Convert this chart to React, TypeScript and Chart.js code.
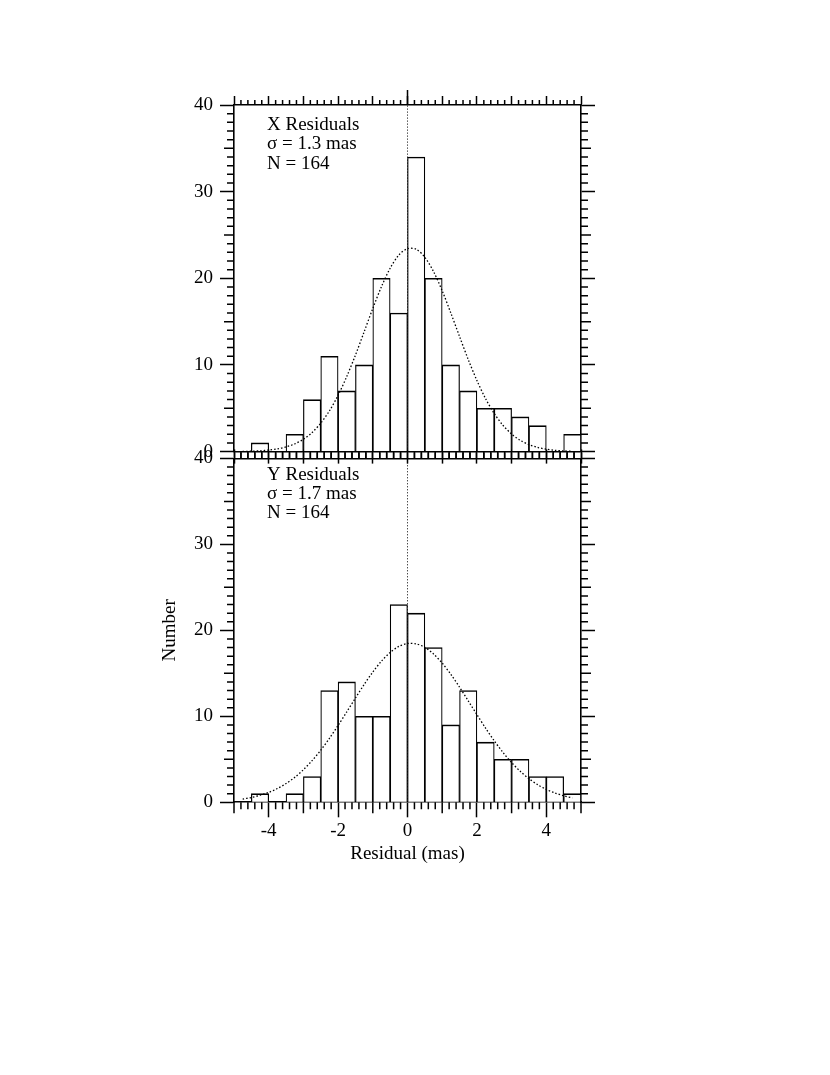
import React, { useEffect, useRef } from "react";
import { Chart, registerables } from "chart.js";

Chart.register(...registerables);

// ---------- data ----------
const binCenters = [
  -4.75, -4.25, -3.75, -3.25, -2.75, -2.25, -1.75, -1.25, -0.75, -0.25,
  0.25, 0.75, 1.25, 1.75, 2.25, 2.75, 3.25, 3.75, 4.25, 4.75,
];
const xResidualCounts = [0, 1, 0, 2, 6, 11, 7, 10, 20, 16, 34, 20, 10, 7, 5, 5, 4, 3, 0, 2];
const yResidualCounts = [0, 1, 0, 1, 3, 13, 14, 10, 10, 23, 22, 18, 9, 13, 7, 5, 5, 3, 3, 1];

const curveX = [
  -4.75, -4.5, -4.25, -4.0, -3.75, -3.5, -3.25, -3.0, -2.75, -2.5, -2.25, -2.0, -1.75,
  -1.5, -1.25, -1.0, -0.75, -0.5, -0.25, 0.0, 0.25, 0.5, 0.75, 1.0, 1.25, 1.5, 1.75,
  2.0, 2.25, 2.5, 2.75, 3.0, 3.25, 3.5, 3.75, 4.0, 4.25, 4.5, 4.75,
];
const xFitCurve = [
  0.02, 0.05, 0.09, 0.18, 0.31, 0.54, 0.89, 1.43, 2.2, 3.28, 4.7, 6.5, 8.67,
  11.14, 13.82, 16.52, 19.04, 21.16, 22.68, 23.43, 23.35, 22.43, 20.78, 18.56, 15.98, 13.28, 10.63,
  8.21, 6.11, 4.39, 3.04, 2.03, 1.3, 0.81, 0.48, 0.28, 0.15, 0.08, 0.04,
];
const yFitCurve = [
  0.38, 0.56, 0.82, 1.15, 1.6, 2.18, 2.9, 3.79, 4.84, 6.06, 7.44, 8.94, 10.52,
  12.13, 13.7, 15.15, 16.42, 17.43, 18.13, 18.47, 18.43, 18.02, 17.25, 16.19, 14.88, 13.39, 11.8,
  10.2, 8.63, 7.15, 5.81, 4.62, 3.6, 2.75, 2.05, 1.5, 1.08, 0.76, 0.52,
];

const xIntegerTicks = [-5, -4, -3, -2, -1, 0, 1, 2, 3, 4, 5];
const xLabelTicks = [-4, -2, 0, 2, 4];
const yTicks = [0, 10, 20, 30, 40];

const xPanelText = ["X Residuals", "\u03c3 = 1.3 mas", "N = 164"];
const yPanelText = ["Y Residuals", "\u03c3 = 1.7 mas", "N = 164"];

const xAxisTitle = "Residual (mas)";
const yAxisTitle = "Number";

// ---------- styling ----------
const FONT = "'Liberation Serif', 'Times New Roman', serif";
const FONT_SIZE = 19;
const BLACK = "#000";

type PanelKind = "top" | "bottom";

function makeTickPlugin(kind: PanelKind) {
  const o =
    kind === "top"
      ? { topMinor: 5, topZero: 15, bottomMinor: 7, bottomOdd: 0, yMinor: 7, yFive: 10, lines: xPanelText, dx: 33, dy: 24.5, lh: 19.5 }
      : { topMinor: 6, topZero: 0, bottomMinor: 7, bottomOdd: 11, yMinor: 7, yFive: 10, lines: yPanelText, dx: 33, dy: 22, lh: 19 };
  return {
    id: "axisTicks_" + kind,
    afterDraw(chart: any) {
      const { ctx, chartArea: a, scales } = chart;
      const xs = scales.x;
      const ys = scales.y;
      ctx.save();
      ctx.strokeStyle = BLACK;
      ctx.lineWidth = 1.5;
      ctx.beginPath();
      for (let i = -25; i <= 25; i++) {
        const v = i / 5;
        const px = xs.getPixelForValue(v);
        const isInt = i % 5 === 0;
        if (!isInt) {
          ctx.moveTo(px, a.top);
          ctx.lineTo(px, a.top - o.topMinor);
          ctx.moveTo(px, a.bottom);
          ctx.lineTo(px, a.bottom + o.bottomMinor);
        } else if (o.bottomOdd && Math.abs(v) % 2 === 1) {
          ctx.moveTo(px, a.bottom);
          ctx.lineTo(px, a.bottom + o.bottomOdd);
        }
      }
      if (o.topZero) {
        const px = xs.getPixelForValue(0);
        ctx.moveTo(px, a.top);
        ctx.lineTo(px, a.top - o.topZero);
      }
      for (let j = 1; j < 40; j++) {
        if (j % 10 === 0) continue;
        const len = j % 5 === 0 ? o.yFive : o.yMinor;
        const py = ys.getPixelForValue(j);
        ctx.moveTo(a.left, py);
        ctx.lineTo(a.left - len, py);
        ctx.moveTo(a.right, py);
        ctx.lineTo(a.right + len, py);
      }
      ctx.stroke();

      ctx.fillStyle = BLACK;
      ctx.font = `${FONT_SIZE}px ${FONT}`;
      ctx.textAlign = "left";
      ctx.textBaseline = "alphabetic";
      o.lines.forEach((t, k) => {
        ctx.fillText(t, a.left + o.dx, a.top + o.dy + k * o.lh);
      });
      ctx.restore();
    },
  };
}

function makeConfig(kind: PanelKind): any {
  const isTop = kind === "top";
  const counts = isTop ? xResidualCounts : yResidualCounts;
  const fit = isTop ? xFitCurve : yFitCurve;
  const font = { family: FONT, size: FONT_SIZE };

  const leftPad = 154.6;
  const yWidth = 79.4;
  const y2Width = 20;
  const rightPad = 229;

  return {
    type: "bar",
    data: {
      datasets: [
        {
          type: "line",
          data: curveX.map((x, i) => ({ x, y: fit[i] })),
          xAxisID: "x",
          yAxisID: "y",
          borderColor: BLACK,
          borderWidth: 1.3,
          borderDash: [1.5, 2],
          pointRadius: 0,
          fill: false,
          tension: 0.3,
          order: 0,
        },
        {
          type: "bar",
          data: binCenters.map((x, i) => ({ x, y: counts[i] })),
          xAxisID: "x",
          yAxisID: "y",
          backgroundColor: "#fff",
          borderColor: BLACK,
          borderWidth: { top: 1.6, left: 1.2, right: 1.2, bottom: 0 },
          barPercentage: 1,
          categoryPercentage: 1,
          order: 1,
        },
        {
          type: "line",
          data: [
            { x: 0, y: 0 },
            { x: 0, y: 40 },
          ],
          xAxisID: "x",
          yAxisID: "y",
          borderColor: BLACK,
          borderWidth: 1,
          borderDash: [1, 2],
          pointRadius: 0,
          fill: false,
          order: 2,
        },
      ],
    },
    options: {
      animation: false,
      responsive: false,
      maintainAspectRatio: false,
      events: [],
      layout: {
        padding: isTop
          ? { left: leftPad, right: rightPad, top: 89, bottom: 2.3 }
          : { left: leftPad, right: rightPad, top: 2, bottom: 5.1 },
      },
      plugins: {
        legend: { display: false },
        tooltip: { enabled: false },
        title: { display: false },
      },
      scales: {
        x: {
          type: "linear",
          position: "bottom",
          min: -5,
          max: 5,
          offset: false,
          afterBuildTicks: (s: any) => {
            s.ticks = (isTop ? xIntegerTicks : xLabelTicks).map((v) => ({ value: v }));
          },
          afterFit: (s: any) => {
            s.height = isTop ? 16 : 67.6;
          },
          grid: {
            display: true,
            drawOnChartArea: false,
            drawTicks: true,
            tickLength: isTop ? 12 : 15,
            tickWidth: 1.5,
            tickColor: BLACK,
            color: BLACK,
            offset: false,
          },
          border: { display: true, color: BLACK, width: 1.6 },
          ticks: {
            display: !isTop,
            autoSkip: false,
            maxRotation: 0,
            padding: 2,
            color: BLACK,
            font,
            callback: (v: any) => String(v),
          },
          title: {
            display: !isTop,
            text: xAxisTitle,
            color: BLACK,
            font,
            padding: { top: 4, bottom: 4 },
          },
        },
        x2: {
          type: "linear",
          position: "top",
          min: -5,
          max: 5,
          offset: false,
          display: true,
          afterBuildTicks: (s: any) => {
            s.ticks = xIntegerTicks.map((v) => ({ value: v }));
          },
          afterFit: (s: any) => {
            s.height = isTop ? 16 : 12;
          },
          grid: {
            display: true,
            drawOnChartArea: false,
            drawTicks: true,
            tickLength: 9,
            tickWidth: 1.5,
            tickColor: BLACK,
            color: BLACK,
            offset: false,
          },
          border: { display: true, color: BLACK, width: 1.6 },
          ticks: { display: false },
        },
        y: {
          type: "linear",
          position: "left",
          min: 0,
          max: 40,
          afterBuildTicks: (s: any) => {
            s.ticks = yTicks.map((v) => ({ value: v }));
          },
          afterFit: (s: any) => {
            s.width = yWidth;
          },
          grid: {
            display: true,
            drawOnChartArea: false,
            drawTicks: true,
            tickLength: 14,
            tickWidth: 1.5,
            tickColor: BLACK,
            color: BLACK,
          },
          border: { display: true, color: BLACK, width: 1.6 },
          ticks: {
            autoSkip: false,
            padding: 7,
            color: BLACK,
            font,
            callback: (v: any) => String(v),
          },
          title: {
            display: !isTop,
            text: yAxisTitle,
            color: BLACK,
            font,
            padding: { top: 4, bottom: 4 },
          },
        },
        y2: {
          type: "linear",
          position: "right",
          min: 0,
          max: 40,
          display: true,
          afterBuildTicks: (s: any) => {
            s.ticks = yTicks.map((v) => ({ value: v }));
          },
          afterFit: (s: any) => {
            s.width = y2Width;
          },
          grid: {
            display: true,
            drawOnChartArea: false,
            drawTicks: true,
            tickLength: 14,
            tickWidth: 1.5,
            tickColor: BLACK,
            color: BLACK,
          },
          border: { display: true, color: BLACK, width: 1.6 },
          ticks: { display: false },
        },
      },
    },
    plugins: [makeTickPlugin(kind)],
  };
}

export default function App() {
  const topRef = useRef<HTMLCanvasElement>(null);
  const botRef = useRef<HTMLCanvasElement>(null);

  useEffect(() => {
    const c1 = new Chart(topRef.current as HTMLCanvasElement, makeConfig("top"));
    const c2 = new Chart(botRef.current as HTMLCanvasElement, makeConfig("bottom"));
    return () => {
      c1.destroy();
      c2.destroy();
    };
  }, []);

  return (
    <div
      style={{
        position: "absolute",
        left: 0,
        top: 0,
        width: 830,
        height: 1075,
        background: "#fff",
      }}
    >
      <canvas
        ref={botRef}
        width={830}
        height={435}
        style={{ position: "absolute", left: 0, top: 440, width: 830, height: 435, zIndex: 1 }}
      />
      <canvas
        ref={topRef}
        width={830}
        height={470}
        style={{ position: "absolute", left: 0, top: 0, width: 830, height: 470, zIndex: 2 }}
      />
    </div>
  );
}
